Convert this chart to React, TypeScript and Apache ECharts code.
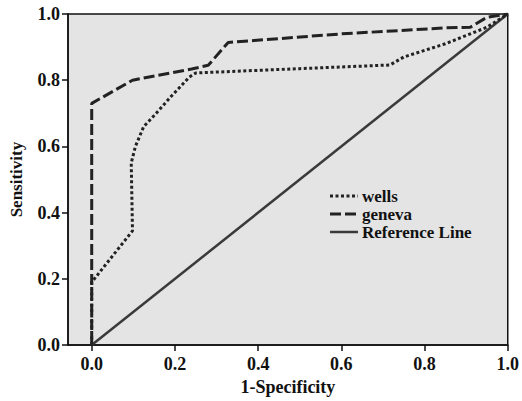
import React, { useEffect, useRef } from "react";
import * as echarts from "echarts";

const wellsX = [0, 0, 0.098, 0.095, 0.105, 0.125, 0.155, 0.19, 0.235, 0.25, 0.5, 0.717, 0.75, 0.85, 0.95, 1.0];
const wellsY = [0, 0.19, 0.345, 0.55, 0.6, 0.66, 0.7, 0.75, 0.81, 0.822, 0.835, 0.846, 0.87, 0.91, 0.96, 1.0];
const genevaX = [0, 0, 0.098, 0.24, 0.28, 0.328, 0.6, 0.85, 0.91, 0.95, 1.0];
const genevaY = [0, 0.73, 0.8, 0.834, 0.845, 0.914, 0.94, 0.958, 0.96, 0.99, 1.0];
const refX = [0, 1];
const refY = [0, 1];
const tickValues = [0, 0.2, 0.4, 0.6, 0.8, 1.0];
const seriesNames = ["wells", "geneva", "Reference Line"];

const pairs = (xs: number[], ys: number[]) => xs.map((x, i) => [x, ys[i]]);

export default function App() {
  const ref = useRef<HTMLDivElement>(null);
  useEffect(() => {
    if (!ref.current) return;
    const chart = echarts.init(ref.current, null, { renderer: "svg" });
    const font = "Liberation Serif";
    const lineColor = "#222";
    const dashes: any[] = [[3, 2.5], [11, 4], null];
    const widths = [3, 3, 2.5];
    const colors = [lineColor, lineColor, "#3a3a3a"];
    const legendX = 330;
    const legendY0 = 196;
    const legendStep = 18;
    const legendGraphics: any[] = [];
    seriesNames.forEach((name, i) => {
      const y = legendY0 + i * legendStep;
      legendGraphics.push({
        type: "line",
        shape: { x1: legendX, y1: y, x2: legendX + 28, y2: y },
        style: { stroke: colors[i], lineWidth: widths[i], lineDash: dashes[i] || undefined },
        z: 10,
      });
      legendGraphics.push({
        type: "text",
        x: legendX + 32,
        y,
        style: {
          text: name,
          fontFamily: font,
          fontWeight: "bold",
          fontSize: 17,
          fill: "#111",
          textVerticalAlign: "middle",
          verticalAlign: "middle",
        },
        z: 10,
      });
    });
    chart.setOption({
      animation: false,
      backgroundColor: "#fff",
      textStyle: { fontFamily: font },
      grid: {
        left: 65,
        right: 14,
        top: 14,
        bottom: 49,
        show: true,
        backgroundColor: "#e4e4e4",
        borderColor: "#111",
        borderWidth: 1.5,
      },
      graphic: legendGraphics,
      xAxis: {
        type: "value",
        min: -0.057,
        max: 1,
        name: "1-Specificity",
        nameLocation: "middle",
        nameGap: 30,
        nameTextStyle: { fontFamily: font, fontWeight: "bold", fontSize: 18, color: "#111" },
        axisLine: { show: true, onZero: false, lineStyle: { color: "#111", width: 1.5 } },
        axisTick: { show: true, length: 6, customValues: tickValues, lineStyle: { color: "#111", width: 1.5 } },
        axisLabel: {
          customValues: tickValues,
          margin: 10,
          fontFamily: font,
          fontWeight: "bold",
          fontSize: 18,
          color: "#111",
          formatter: (v: number) => v.toFixed(1),
        },
        splitLine: { show: false },
      },
      yAxis: {
        type: "value",
        min: 0,
        max: 1,
        interval: 0.2,
        name: "Sensitivity",
        nameLocation: "middle",
        nameGap: 43,
        nameTextStyle: { fontFamily: font, fontWeight: "bold", fontSize: 17, color: "#111" },
        axisLine: { show: true, onZero: false, lineStyle: { color: "#111", width: 1.5 } },
        axisTick: { show: true, length: 6, lineStyle: { color: "#111", width: 1.5 } },
        axisLabel: {
          margin: 8,
          fontFamily: font,
          fontWeight: "bold",
          fontSize: 18,
          color: "#111",
          formatter: (v: number) => v.toFixed(1),
        },
        splitLine: { show: false },
      },
      series: [
        {
          name: seriesNames[0],
          type: "line",
          symbol: "none",
          data: pairs(wellsX, wellsY),
          lineStyle: { color: lineColor, width: 3, type: [3, 2.5] },
          itemStyle: { color: lineColor },
          z: 3,
        },
        {
          name: seriesNames[1],
          type: "line",
          symbol: "none",
          data: pairs(genevaX, genevaY),
          lineStyle: { color: lineColor, width: 3, type: [11, 4] },
          itemStyle: { color: lineColor },
          z: 2,
        },
        {
          name: seriesNames[2],
          type: "line",
          symbol: "none",
          data: pairs(refX, refY),
          lineStyle: { color: "#3a3a3a", width: 2.5 },
          itemStyle: { color: "#3a3a3a" },
          z: 1,
        },
      ],
    });
    return () => chart.dispose();
  }, []);
  return <div ref={ref} style={{ width: 522, height: 401, position: "absolute", left: 0, top: 0 }} />;
}
